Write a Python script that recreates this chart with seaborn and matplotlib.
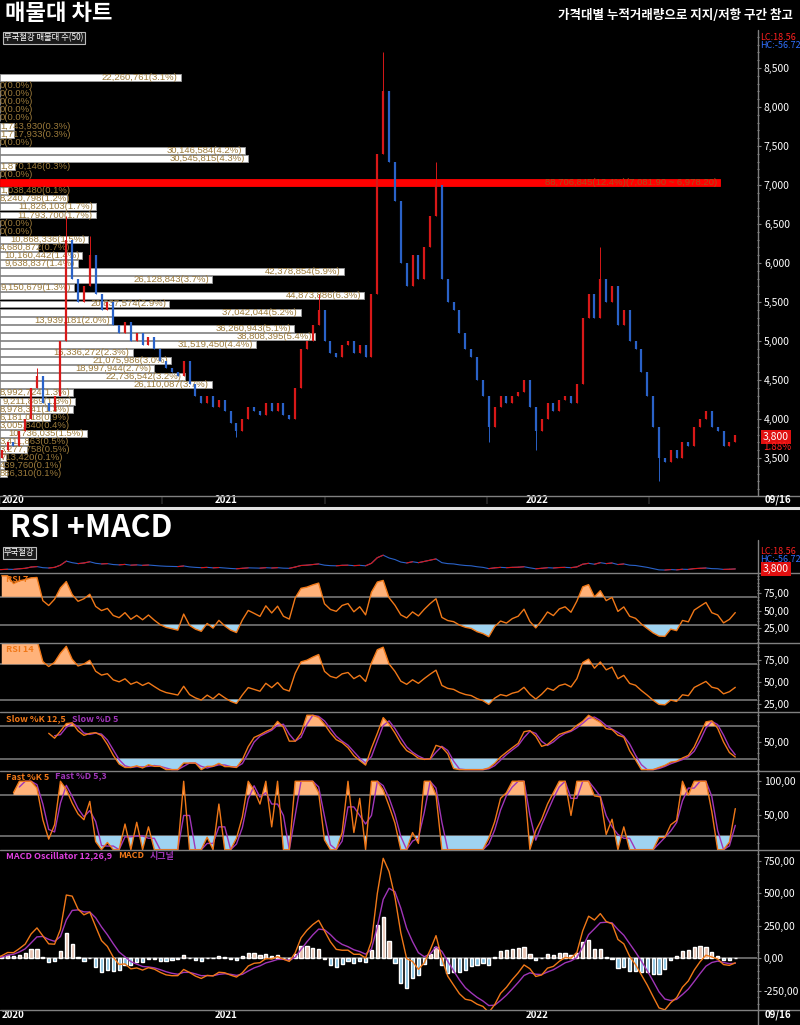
import matplotlib.pyplot as plt
import matplotlib.ticker as mticker
from matplotlib.lines import Line2D
import numpy as np
import pandas as pd
import seaborn as sns

# weekly closes, 2020-04-17 .. 2022-09-16
closes = [3500, 3600, 3700, 3650, 3850, 4000, 4400, 4550, 4200, 4100,
          4300, 5000, 6300, 5800, 5500, 5700, 6100, 5600, 5400, 5500,
          5200, 5100, 5250, 5000, 5100, 4950, 5050, 4900, 4750, 4650,
          4600, 4550, 4750, 4450, 4300, 4200, 4300, 4150, 4250, 4100,
          3950, 3850, 4000, 4150, 4100, 4050, 4200, 4100, 4200, 4050,
          4000, 4400, 4900, 5000, 5200, 5400, 5000, 4850, 4800, 4950,
          5000, 4850, 4950, 4800, 5600, 7400, 8200, 7300, 6800, 6000,
          5700, 6100, 5800, 6200, 6600, 7000, 5800, 5500, 5400, 5100,
          4900, 4800, 4500, 4300, 3900, 4150, 4300, 4200, 4300, 4350,
          4500, 4150, 3850, 4000, 4200, 4100, 4250, 4300, 4200, 4450,
          5300, 5600, 5300, 5800, 5500, 5700, 5200, 5400, 5000, 4900,
          4600, 4300, 3900, 3500, 3450, 3600, 3500, 3700, 3650, 3900,
          4000, 4100, 3900, 3850, 3650, 3700, 3800]
wick_highs = [(7, 4650), (12, 6600), (16, 6350), (55, 5600), (66, 8700), (75, 7300), (103, 6200)]
wick_lows = [(0, 3400), (41, 3770), (84, 3700), (92, 3600), (113, 3200)]

# volume profile (50 bins), top bin first
vp_volumes = [22260761, 0, 0, 0, 0, 0, 1743930, 1717933, 0, 30146584,
              30545815, 1870146, 0, 88706845, 1038480, 8240798, 11828103, 11793700, 0, 0,
              10868336, 4680872, 10160442, 9638837, 42378854, 26128843, 9150679, 44873886, 20837574, 37042044,
              13939181, 36260943, 38808395, 31519450, 16336272, 21075986, 18997944, 22736542, 26110087, 8992724,
              9211869, 8978341, 6181018, 3005840, 10736035, 3411863, 3277758, 713420, 439760, 886310]
vp_pcts = [3.1, 0.0, 0.0, 0.0, 0.0, 0.0, 0.3, 0.3, 0.0, 4.2,
           4.3, 0.3, 0.0, 12.4, 0.1, 1.2, 1.7, 1.7, 0.0, 0.0,
           1.5, 0.7, 1.4, 1.4, 5.9, 3.7, 1.3, 6.3, 2.9, 5.2,
           2.0, 5.1, 5.4, 4.4, 2.3, 3.0, 2.7, 3.2, 3.7, 1.3,
           1.3, 1.3, 0.9, 0.4, 1.5, 0.5, 0.5, 0.1, 0.1, 0.1]
vp_top = 8430.0
vp_bottom = 3245.0

last_price = 3800
last_change = '1.88%'
lc_text = 'LC:18.56'
hc_text = 'HC:-56.72'
year_labels = ['2020', '2021', '2022']
end_label = '09/16'

dates = pd.date_range('2020-04-17', periods=len(closes), freq='W-FRI')
idx = np.arange(len(closes))

sns.set_theme(style='dark', rc={'axes.facecolor': 'black', 'figure.facecolor': 'black'})
plt.rcParams['font.family'] = ['Noto Sans CJK KR', 'DejaVu Sans']

W, H = 800, 1025
PLOT_W = 757
XMIN, XMAX = 0.7, 129.7
GRAY = '#808080'
ORANGE = '#f07818'
PURPLE = '#a035b8'
UP, DOWN = '#d81818', '#2a62c8'

fig = plt.figure(figsize=(8, 10.25), dpi=100, facecolor='black')
renderer = fig.canvas.get_renderer()


def fx(x):
    return x / W


def fy(y):
    return 1 - y / H


def comma2(v, pos=None):
    return f'{v:.2f}'.replace('.', ',')


def panel(y0, y1, ylim, ticks, minor, fmt=comma2):
    ax = fig.add_axes([0, fy(y1), PLOT_W / W, (y1 - y0) / H])
    ax.set_facecolor('black')
    for s in ax.spines.values():
        s.set_visible(False)
    ax.set_xlim(XMIN, XMAX)
    ax.set_ylim(*ylim)
    ax.tick_params(axis='x', bottom=False, labelbottom=False, top=False, labeltop=False)
    ax.yaxis.tick_right()
    ax.set_yticks(ticks)
    ax.yaxis.set_minor_locator(mticker.MultipleLocator(minor))
    ax.yaxis.set_major_formatter(mticker.FuncFormatter(fmt))
    ax.tick_params(axis='y', which='both', right=True, left=False, labelright=True, labelleft=False,
                   colors=GRAY, labelcolor='white', labelsize=7.5, width=0.8, pad=2)
    ax.tick_params(axis='y', which='major', length=3)
    ax.tick_params(axis='y', which='minor', length=1.5)
    ax.grid(False)
    return ax


def clear_labels(ax):
    ax.set_xlabel('')
    ax.set_ylabel('')


# ---------------- price panel with volume profile ----------------
close = pd.Series(closes, dtype=float)
opens = close.shift(1).fillna(close.iloc[0])
highs = np.maximum(opens, close).to_numpy().copy()
lows = np.minimum(opens, close).to_numpy().copy()
for i, v in wick_highs:
    highs[i] = max(highs[i], v)
for i, v in wick_lows:
    lows[i] = min(lows[i], v)

ax_vp = panel(30, 496, (3013, 8987), list(range(3500, 9000, 500)), 100,
              fmt=lambda v, p: f'{v:,.0f}')
vol_max = max(vp_volumes) * PLOT_W / 720
ax_vp.set_xlim(0, vol_max)
binw = (vp_top - vp_bottom) / len(vp_volumes)
centers = vp_top - (np.arange(len(vp_volumes)) + 0.5) * binw
imax = int(np.argmax(vp_volumes))
bar_cols = ['#ff0000' if k == imax else 'white' for k in range(len(vp_volumes))]
ax_vp.barh(centers, vp_volumes, height=binw * 0.86, color=bar_cols,
           edgecolor=[c if c != 'white' else '#9a9a9a' for c in bar_cols], linewidth=0.6, zorder=1)

for k, (v, p) in enumerate(zip(vp_volumes, vp_pcts)):
    label = f'{v:,}({p:.1f}%)'
    col = '#9b7a3a'
    if k == imax:
        hi = vp_top - k * binw
        lo = hi - binw
        label += f'({hi:,.2f} ~ {lo:,.2f})'
        col = '#a8501c'
    t = ax_vp.text(v - vol_max * 3 / PLOT_W, centers[k], label, ha='right', va='center',
                   fontsize=6.8, color=col, zorder=3,
                   family=['Liberation Sans Narrow', 'Liberation Sans', 'DejaVu Sans'])
    w_px = t.get_window_extent(renderer).width
    if w_px > v / vol_max * PLOT_W:
        t.set_x(0)
        t.set_ha('left')

ax_px = ax_vp.twiny()
ax_px.set_xlim(XMIN, XMAX)
ax_px.tick_params(axis='x', top=False, labeltop=False, bottom=False, labelbottom=False)
for s in ax_px.spines.values():
    s.set_visible(False)
cols = [UP if c >= o else DOWN for o, c in zip(opens, close)]
ax_px.vlines(idx, lows, highs, colors=cols, linewidth=0.7, zorder=2)
ax_px.vlines(idx, np.minimum(opens, close), np.maximum(opens, close), colors=cols, linewidth=1.6, zorder=2)

# ---------------- mini price line ----------------
ax_mini = panel(545, 573, (2500, 11450), [], 100000)
ax_mini.tick_params(axis='y', which='both', right=False, labelright=False)
sns.lineplot(x=idx, y=close, ax=ax_mini, color=DOWN, linewidth=0.8)
for i in range(1, len(closes)):
    if closes[i] > closes[i - 1]:
        ax_mini.plot([i - 1, i], [closes[i - 1], closes[i]], color=UP, linewidth=0.8)
clear_labels(ax_mini)


# ---------------- indicators (weekly sampling, so periods are shortened) ----------------
def rsi(s, n):
    d = s.diff()
    up = d.clip(lower=0).ewm(alpha=1 / n, adjust=False).mean()
    dn = (-d.clip(upper=0)).ewm(alpha=1 / n, adjust=False).mean()
    return 100 - 100 / (1 + up / dn)


hi_s = pd.Series(highs)
lo_s = pd.Series(lows)


def stoch_k(n):
    lo_n = lo_s.rolling(n).min()
    hi_n = hi_s.rolling(n).max()
    return 100 * (close - lo_n) / (hi_n - lo_n)


rsi7 = rsi(close, 5)
rsi14 = rsi(close, 8)
slow_k = stoch_k(8).rolling(3).mean()
slow_d = slow_k.rolling(2).mean()
fast_k = stoch_k(4)
fast_d = fast_k.rolling(2).mean()
macd = close.ewm(span=4, adjust=False).mean() - close.ewm(span=8, adjust=False).mean()
signal = macd.ewm(span=4, adjust=False).mean()
osc = macd - signal


def band_fill(ax, y, hi_lvl, lo_lvl):
    ax.axhline(hi_lvl, color=GRAY, linewidth=1.1, zorder=1)
    ax.axhline(lo_lvl, color=GRAY, linewidth=1.1, zorder=1)
    yv = y.to_numpy()
    ok = ~np.isnan(yv)
    ax.fill_between(idx[ok], hi_lvl, yv[ok], where=yv[ok] > hi_lvl, interpolate=True,
                    color='#ffb27a', zorder=2, linewidth=0)
    ax.fill_between(idx[ok], yv[ok], lo_lvl, where=yv[ok] < lo_lvl, interpolate=True,
                    color='#9fd3f0', zorder=2, linewidth=0)


def tag(parts, y_px):
    # panel caption in the top-left corner
    x = 6
    for txt, c in parts:
        t = fig.text(fx(x), fy(y_px), txt, color=c, fontsize=6.5, weight='bold', va='center')
        x += t.get_window_extent(renderer).width + 6


ax_r7 = panel(573, 643, (4, 104), [25, 50, 75], 5)
band_fill(ax_r7, rsi7, 70, 30)
sns.lineplot(x=idx, y=rsi7, ax=ax_r7, color=ORANGE, linewidth=1, zorder=3)
clear_labels(ax_r7)
tag([('RSI 7', ORANGE)], 580)

ax_r14 = panel(643, 712, (16, 94), [25, 50, 75], 5)
band_fill(ax_r14, rsi14, 70, 30)
sns.lineplot(x=idx, y=rsi14, ax=ax_r14, color=ORANGE, linewidth=1, zorder=3)
clear_labels(ax_r14)
tag([('RSI 14', ORANGE)], 650)

ax_sl = panel(712, 771, (-2.5, 106), [50], 10)
band_fill(ax_sl, slow_k, 80, 20)
sns.lineplot(x=idx, y=slow_d, ax=ax_sl, color=PURPLE, linewidth=1, zorder=3)
sns.lineplot(x=idx, y=slow_k, ax=ax_sl, color=ORANGE, linewidth=1, zorder=4)
clear_labels(ax_sl)
tag([('Slow %K 12,5', ORANGE), ('Slow %D 5', PURPLE)], 719)

ax_fs = panel(771, 850, (-0.5, 115), [50, 100], 10)
band_fill(ax_fs, fast_k, 80, 20)
sns.lineplot(x=idx, y=fast_d, ax=ax_fs, color=PURPLE, linewidth=1, zorder=3)
sns.lineplot(x=idx, y=fast_k, ax=ax_fs, color=ORANGE, linewidth=1, zorder=4)
clear_labels(ax_fs)
tag([('Fast %K 5', ORANGE), ('Fast %D 5,3', PURPLE)], 777)

ax_m = panel(850, 1010, (-400, 831), [-250, 0, 250, 500, 750], 50)
ax_m.axhline(0, color=GRAY, linewidth=1.1, zorder=1)
ax_m.bar(idx, osc, width=0.55, color=np.where(osc >= 0, '#e8c2b0', '#7fbfe0'), zorder=2)
sns.lineplot(x=idx, y=signal, ax=ax_m, color=PURPLE, linewidth=1, zorder=3)
sns.lineplot(x=idx, y=macd, ax=ax_m, color=ORANGE, linewidth=1, zorder=4)
clear_labels(ax_m)
tag([('MACD Oscillator 12,26,9', '#e040e0'), ('MACD', ORANGE), ('시그널', PURPLE)], 856)

# ---------------- x labels ----------------
year_pos = [XMIN] + [int(np.searchsorted(dates, pd.Timestamp(f'{y}-01-01'))) for y in year_labels[1:]]
for ax, y_lab, bottom, h in [(ax_px, 500, 496, 466), (ax_m, 1015, 1010, 160)]:
    for lab, pos in zip(year_labels, year_pos):
        ax.text(pos + 0.3, (bottom - y_lab) / h, lab, transform=ax.get_xaxis_transform(),
                ha='left', va='center', color='white', fontsize=7, weight='bold', clip_on=False)
    fig.text(fx(765), fy(y_lab), end_label, color='white', fontsize=7, weight='bold', va='center')

# ---------------- frame lines ----------------
for y in [496, 573, 643, 712, 771, 850, 1010]:
    fig.add_artist(Line2D([0, 1], [fy(y), fy(y)], transform=fig.transFigure, color=GRAY, linewidth=1))
fig.add_artist(Line2D([0, 1], [fy(508), fy(508)], transform=fig.transFigure, color='#e0e0e0', linewidth=2.2))
fig.add_artist(Line2D([fx(758), fx(758)], [fy(30), fy(496)], transform=fig.transFigure, color=GRAY, linewidth=1))
fig.add_artist(Line2D([fx(758), fx(758)], [fy(540), fy(1025)], transform=fig.transFigure, color=GRAY, linewidth=1))

# ---------------- titles and badges ----------------
fig.text(fx(5), fy(14), '매물대 차트', color='white', fontsize=16, weight='bold', va='center')
fig.text(fx(793), fy(15), '가격대별 누적거래량으로 지지/저항 구간 참고', color='white', fontsize=9,
         weight='bold', ha='right', va='center')
fig.text(fx(10), fy(528), 'RSI +MACD', color='white', fontsize=22, weight='bold', va='center')

box = dict(boxstyle='square,pad=0.15', fc='#1a1a1a', ec='#bbbbbb', lw=0.8)
fig.text(fx(4), fy(38), '무국철강 매물대 수(50)', color='white', fontsize=6, va='center', bbox=box)
fig.text(fx(4), fy(553), '무국철강', color='white', fontsize=6, va='center', bbox=box)

fig.text(fx(760), fy(37), lc_text, color='#ff2020', fontsize=6.5, va='center')
fig.text(fx(760), fy(46), hc_text, color='#3070ff', fontsize=6.5, va='center')
fig.text(fx(760), fy(552), lc_text, color='#ff2020', fontsize=6.5, va='center')
fig.text(fx(760), fy(560), hc_text, color='#3070ff', fontsize=6.5, va='center')

red_box = dict(boxstyle='square,pad=0.15', fc='#e01010', ec='none')
fig.text(fx(763), fy(437), f'{last_price:,}', color='white', fontsize=7.5, va='center', bbox=red_box)
fig.text(fx(763), fy(447), last_change, color='#ff2020', fontsize=7, va='center')
fig.text(fx(763), fy(569), f'{last_price:,}', color='white', fontsize=7.5, va='center', bbox=red_box)

fig.savefig('out.png', dpi=100, facecolor='black')
